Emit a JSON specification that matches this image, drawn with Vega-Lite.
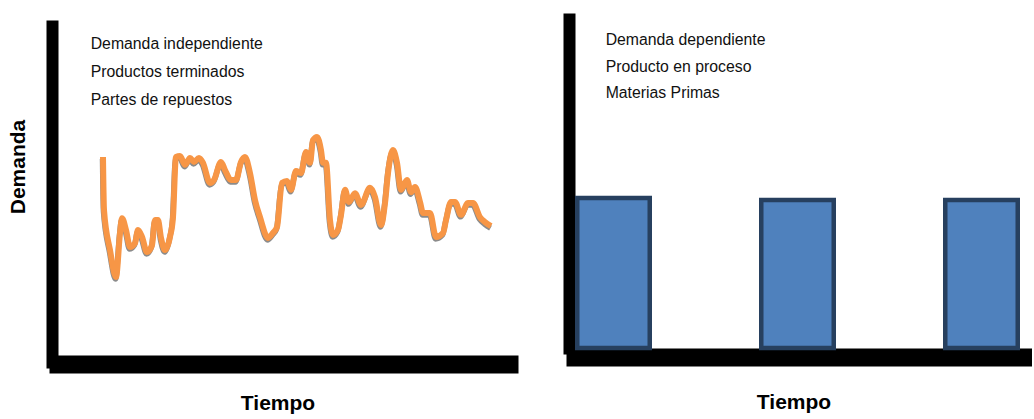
{
  "$schema": "https://vega.github.io/schema/vega-lite/v6.json",
  "padding": {"left": 0, "top": 19, "right": 3, "bottom": 0},
  "background": "white",
  "spacing": 60,
  "config": {
    "view": {"stroke": null},
    "font": "Liberation Sans",
    "axis": {
      "domainColor": "#000000",
      "domainCap": "square",
      "ticks": false,
      "labels": false,
      "grid": false,
      "titleFont": "Liberation Sans",
      "titleFontWeight": "bold",
      "titleFontSize": 21,
      "titleColor": "#000000"
    }
  },
  "datasets": {
    "serie": [
      {"t": 9.98, "d": 60.2}, {"t": 10.2, "d": 44.1}, {"t": 11.53, "d": 31.9}, {"t": 12.86, "d": 23.7},
      {"t": 13.75, "d": 37.1}, {"t": 14.19, "d": 41.6}, {"t": 15.08, "d": 38.0}, {"t": 15.96, "d": 32.8},
      {"t": 17.07, "d": 34.0}, {"t": 17.74, "d": 38.0}, {"t": 18.63, "d": 35.9}, {"t": 19.73, "d": 31.3},
      {"t": 20.84, "d": 33.4}, {"t": 21.51, "d": 41.0}, {"t": 22.17, "d": 41.0}, {"t": 22.84, "d": 35.6},
      {"t": 23.73, "d": 31.9}, {"t": 24.83, "d": 35.9}, {"t": 25.5, "d": 41.9}, {"t": 26.16, "d": 60.2},
      {"t": 27.05, "d": 60.5}, {"t": 28.16, "d": 57.8}, {"t": 29.27, "d": 59.9}, {"t": 30.16, "d": 58.7},
      {"t": 31.26, "d": 59.9}, {"t": 32.15, "d": 58.4}, {"t": 33.7, "d": 52.3}, {"t": 34.59, "d": 53.2},
      {"t": 36.14, "d": 58.7}, {"t": 37.03, "d": 56.2}, {"t": 38.36, "d": 53.2}, {"t": 39.47, "d": 53.2},
      {"t": 40.58, "d": 58.7}, {"t": 41.46, "d": 60.2}, {"t": 42.57, "d": 55.3}, {"t": 43.68, "d": 47.1},
      {"t": 44.79, "d": 41.9}, {"t": 46.56, "d": 35.6}, {"t": 47.67, "d": 37.1}, {"t": 48.56, "d": 38.9},
      {"t": 49.67, "d": 52.3}, {"t": 50.78, "d": 52.9}, {"t": 51.66, "d": 50.2}, {"t": 52.77, "d": 55.9},
      {"t": 53.88, "d": 55.3}, {"t": 54.99, "d": 61.7}, {"t": 55.88, "d": 58.4}, {"t": 56.54, "d": 65.3},
      {"t": 57.43, "d": 66.3}, {"t": 58.31, "d": 62.3}, {"t": 58.76, "d": 58.4}, {"t": 59.42, "d": 58.4},
      {"t": 60.31, "d": 41.0}, {"t": 60.98, "d": 36.5}, {"t": 62.08, "d": 38.0}, {"t": 62.75, "d": 42.6},
      {"t": 63.64, "d": 50.2}, {"t": 64.52, "d": 46.5}, {"t": 65.85, "d": 49.2}, {"t": 67.18, "d": 45.6},
      {"t": 69.18, "d": 50.8}, {"t": 70.29, "d": 48.0}, {"t": 71.62, "d": 39.5}, {"t": 72.51, "d": 46.2},
      {"t": 73.17, "d": 55.3}, {"t": 74.28, "d": 62.3}, {"t": 75.17, "d": 58.4}, {"t": 76.05, "d": 50.2},
      {"t": 77.38, "d": 53.2}, {"t": 78.27, "d": 49.5}, {"t": 79.16, "d": 51.1}, {"t": 80.27, "d": 46.5},
      {"t": 80.93, "d": 43.2}, {"t": 82.48, "d": 43.2}, {"t": 83.81, "d": 35.9}, {"t": 85.37, "d": 37.1},
      {"t": 86.03, "d": 41.0}, {"t": 87.14, "d": 46.5}, {"t": 88.03, "d": 46.5}, {"t": 89.36, "d": 42.6},
      {"t": 90.91, "d": 46.2}, {"t": 92.02, "d": 46.2}, {"t": 93.57, "d": 41.9}, {"t": 94.68, "d": 40.4},
      {"t": 96.01, "d": 39.2}
    ],
    "notas_izq": [
      {"linea": "Demanda independiente", "t": 7.25, "d": 93.0},
      {"linea": "Productos terminados", "t": 7.25, "d": 84.6},
      {"linea": "Partes de repuestos", "t": 7.25, "d": 76.1}
    ],
    "notas_der": [
      {"linea": "Demanda dependiente", "t": 6.75, "d": 92.1},
      {"linea": "Producto en proceso", "t": 6.75, "d": 84.0},
      {"linea": "Materias Primas", "t": 6.75, "d": 75.9}
    ],
    "pedidos": [
      {"periodo": "1", "d": 45.6},
      {"periodo": "2", "d": 45.0},
      {"periodo": "3", "d": 45.0}
    ]
  },
  "hconcat": [
    {
      "width": 451,
      "height": 336,
      "encoding": {
        "x": {
          "field": "t", "type": "quantitative",
          "scale": {"domain": [0, 100], "nice": false, "zero": false},
          "axis": {"orient": "bottom", "domainWidth": 18, "offset": 9, "title": "Tiempo", "titleX": 219.5, "titlePadding": 28.4}
        },
        "y": {
          "field": "d", "type": "quantitative",
          "scale": {"domain": [0, 102.13], "nice": false},
          "axis": {"orient": "left", "domainWidth": 12, "offset": 13, "translate": 7.5, "title": "Demanda", "titleY": 140.5, "titlePadding": 23.6}
        }
      },
      "layer": [
        {
          "data": {"name": "serie"},
          "mark": {"type": "line", "color": "#5a5a5a", "strokeWidth": 5.5, "opacity": 0.7, "yOffset": 2, "xOffset": -0.5, "interpolate": "monotone", "strokeJoin": "round"}
        },
        {
          "data": {"name": "serie"},
          "mark": {"type": "line", "color": "#f79646", "strokeWidth": 6, "interpolate": "monotone", "strokeJoin": "round", "strokeCap": "butt"}
        },
        {
          "data": {"name": "notas_izq"},
          "mark": {"type": "text", "align": "left", "baseline": "alphabetic", "fontSize": 15.8, "font": "Liberation Sans", "color": "#111111"},
          "encoding": {"text": {"field": "linea", "type": "nominal"}}
        }
      ]
    },
    {
      "width": 454,
      "height": 329,
      "layer": [
        {
          "data": {"name": "pedidos"},
          "mark": {"type": "bar", "fill": "#4f81bd", "stroke": "#27405f", "strokeWidth": 4.5},
          "encoding": {
            "x": {
              "field": "periodo", "type": "nominal",
              "scale": {"paddingInner": 0.606, "paddingOuter": 0.0367, "align": 0.167},
              "axis": {"orient": "bottom", "domainWidth": 18, "offset": 9, "title": "Tiempo", "titleX": 218.5, "titlePadding": 34.4}
            },
            "y": {
              "field": "d", "type": "quantitative",
              "scale": {"domain": [0, 100], "nice": false},
              "axis": {"orient": "left", "domainWidth": 12, "offset": 6, "title": null}
            }
          }
        },
        {
          "data": {"name": "notas_der"},
          "mark": {"type": "text", "align": "left", "baseline": "alphabetic", "fontSize": 15.8, "font": "Liberation Sans", "color": "#111111"},
          "encoding": {
            "x": {"field": "t", "type": "quantitative", "scale": {"domain": [0, 100], "nice": false, "zero": false}, "axis": null},
            "y": {"field": "d", "type": "quantitative"},
            "text": {"field": "linea", "type": "nominal"}
          }
        }
      ],
      "resolve": {"scale": {"x": "independent"}, "axis": {"x": "independent"}}
    }
  ]
}
